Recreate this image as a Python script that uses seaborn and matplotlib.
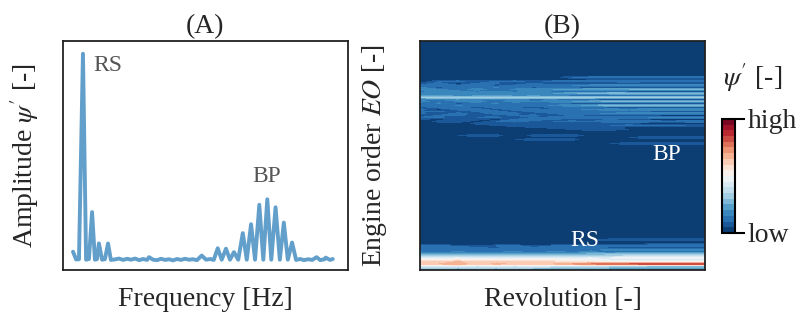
import numpy as np
import matplotlib
matplotlib.use("Agg")
import matplotlib.pyplot as plt
import seaborn as sns

# panel A: spectrum (frequency in arbitrary Hz units, amplitude normalised)
freq = [3.5, 4.6, 5.6, 7.0, 8.1, 9.1, 10.2, 11.2, 11.9, 12.6, 13.7, 14.7, 15.8, 16.8,
        18.2, 19.6, 21.1, 22.5, 23.9, 25.3, 26.7, 28.1, 29.5, 30.2, 31.6, 33.0, 34.4,
        35.8, 37.2, 38.6, 40.0, 41.4, 42.8, 44.2, 45.6, 47.0, 48.7, 50.2, 51.6, 52.9,
        54.3, 55.7, 57.2, 58.6, 60.0, 61.5, 63.1, 64.5, 66.0, 67.4, 68.9, 70.3, 71.7,
        73.1, 74.6, 76.1, 77.5, 78.9, 80.4, 81.8, 83.2, 84.6, 86.0, 87.5, 89.0, 90.3,
        91.8, 92.2, 93.7, 94.7]
amp = [0.080, 0.046, 0.047, 0.945, 0.045, 0.048, 0.253, 0.045, 0.047, 0.116, 0.045, 0.047, 0.116, 0.044,
       0.046, 0.050, 0.044, 0.049, 0.045, 0.050, 0.043, 0.048, 0.044, 0.056, 0.045, 0.043, 0.049,
       0.044, 0.047, 0.042, 0.048, 0.044, 0.049, 0.045, 0.047, 0.043, 0.063, 0.045, 0.048, 0.044,
       0.095, 0.045, 0.093, 0.045, 0.078, 0.045, 0.161, 0.045, 0.200, 0.045, 0.285, 0.045, 0.309,
       0.045, 0.274, 0.045, 0.207, 0.045, 0.120, 0.044, 0.048, 0.043, 0.047, 0.044, 0.056, 0.043,
       0.047, 0.054, 0.044, 0.048]

# panel B: engine order x revolution map, rows that carry energy (others are zero)
n_eo = 115
n_rev = 16
eo_rows = {
    96: [0, 0, 0, 0, 0, 0, 0, 0.02, 0.1, 0.12, 0.12, 0.12, 0.12, 0.12, 0.12, 0.12],
    94: [0, 0.1, 0.12, 0.06, 0.1, 0.12, 0.08, 0.12, 0.12, 0.15, 0.15, 0.15, 0.15, 0.15, 0.15, 0.15],
    93: [0.05, 0.12, 0, 0.1, 0.12, 0, 0.1, 0.05, 0, 0, 0, 0.02, 0, 0, 0, 0],
    92: [0.12, 0.15, 0.1, 0.14, 0.05, 0.12, 0.15, 0.12, 0.15, 0.18, 0.18, 0.2, 0.2, 0.2, 0.2, 0.2],
    91: [0.15, 0.05, 0.14, 0.1, 0.16, 0.1, 0.05, 0.1, 0.05, 0, 0, 0, 0, 0, 0, 0],
    90: [0.18, 0.15, 0.12, 0.18, 0.12, 0.16, 0.18, 0.2, 0.22, 0.25, 0.25, 0.25, 0.26, 0.26, 0.26, 0.26],
    89: [0.1, 0.18, 0.16, 0.12, 0.15, 0.12, 0.15, 0.12, 0.1, 0.05, 0.02, 0, 0, 0, 0, 0],
    88: [0.2, 0.15, 0.18, 0.2, 0.16, 0.2, 0.18, 0.2, 0.24, 0.28, 0.3, 0.3, 0.3, 0.3, 0.3, 0.3],
    87: [0.15, 0.2, 0.12, 0.15, 0.2, 0.12, 0.15, 0.1, 0.05, 0, 0, 0, 0, 0, 0, 0],
    86: [0.3, 0.32, 0.3, 0.33, 0.3, 0.32, 0.33, 0.33, 0.34, 0.35, 0.35, 0.35, 0.35, 0.35, 0.35, 0.35],
    85: [0.12, 0.15, 0.18, 0.12, 0.15, 0.14, 0.1, 0.12, 0.08, 0.05, 0, 0, 0, 0, 0, 0],
    84: [0.18, 0.12, 0.15, 0.18, 0.12, 0.2, 0.15, 0.18, 0.2, 0.24, 0.26, 0.26, 0.26, 0.26, 0.26, 0.26],
    83: [0.1, 0.16, 0.05, 0.12, 0.16, 0.08, 0.14, 0.1, 0.06, 0.02, 0, 0, 0, 0, 0, 0],
    82: [0.15, 0.1, 0.16, 0.12, 0.1, 0.15, 0.12, 0.16, 0.18, 0.22, 0.3, 0.3, 0.3, 0.3, 0.3, 0.3],
    81: [0.05, 0.14, 0.12, 0.05, 0.15, 0.1, 0.05, 0.12, 0.1, 0.08, 0.05, 0, 0, 0, 0, 0],
    80: [0.14, 0, 0.12, 0.14, 0.05, 0.14, 0.12, 0.1, 0.14, 0.16, 0.18, 0.18, 0.2, 0.2, 0.2, 0.2],
    79: [0.1, 0.12, 0.05, 0.1, 0.12, 0.06, 0.12, 0.14, 0.1, 0.12, 0.1, 0.08, 0.06, 0.05, 0.05, 0.05],
    78: [0.12, 0.05, 0.12, 0.08, 0.12, 0.12, 0.05, 0.1, 0.12, 0.14, 0.16, 0.18, 0.2, 0.2, 0.2, 0.2],
    77: [0.05, 0.1, 0.12, 0.05, 0.08, 0.1, 0.12, 0.05, 0.1, 0.08, 0.05, 0.04, 0.02, 0, 0, 0],
    76: [0.1, 0.12, 0.05, 0.1, 0.12, 0.05, 0.1, 0.12, 0.14, 0.12, 0.14, 0.15, 0.15, 0.16, 0.16, 0.16],
    75: [0.05, 0, 0.1, 0.08, 0, 0.1, 0.12, 0.1, 0.05, 0.08, 0.1, 0.05, 0.02, 0, 0, 0],
    74: [0, 0.08, 0.1, 0, 0.1, 0.12, 0.08, 0.1, 0.12, 0.1, 0.12, 0.12, 0.14, 0.12, 0.14, 0.14],
    73: [0, 0, 0, 0.08, 0.1, 0.05, 0.1, 0.08, 0.05, 0.1, 0.08, 0.05, 0, 0, 0, 0],
    72: [0, 0, 0, 0, 0.05, 0.1, 0.08, 0.1, 0.1, 0.05, 0.1, 0.12, 0.1, 0.12, 0.1, 0.1],
    71: [0, 0, 0, 0, 0, 0, 0.05, 0.08, 0.1, 0.08, 0.05, 0.02, 0, 0, 0, 0],
    70: [0, 0, 0, 0, 0, 0, 0, 0, 0.05, 0.1, 0.08, 0.05, 0, 0, 0, 0],
    67: [0, 0, 0.05, 0.1, 0.08, 0, 0.08, 0.1, 0.1, 0.02, 0, 0, 0, 0, 0, 0],
    66: [0, 0, 0, 0, 0, 0, 0, 0, 0, 0, 0, 0.05, 0.1, 0.1, 0.1, 0.1],
    65: [0, 0, 0, 0, 0, 0.05, 0.1, 0.1, 0.08, 0, 0, 0, 0, 0, 0, 0],
    63: [0, 0, 0, 0, 0, 0, 0, 0, 0, 0, 0.05, 0.1, 0.1, 0.1, 0.1, 0.1],
    15: [0, 0, 0, 0, 0, 0, 0, 0, 0, 0.03, 0.1, 0.1, 0.1, 0.1, 0.1, 0.1],
    13: [0, 0, 0, 0, 0, 0, 0, 0, 0, 0, 0, 0, 0.05, 0.08, 0.08, 0.08],
    12: [0.1, 0.12, 0.08, 0.05, 0.1, 0.12, 0.05, 0.1, 0.1, 0.12, 0.12, 0.14, 0.14, 0.14, 0.14, 0.14],
    11: [0.14, 0.1, 0.14, 0.12, 0.08, 0.14, 0.12, 0.14, 0.12, 0.1, 0.08, 0.05, 0.05, 0.05, 0.05, 0.05],
    10: [0.12, 0.15, 0.1, 0.14, 0.15, 0.1, 0.14, 0.12, 0.15, 0.14, 0.16, 0.16, 0.18, 0.18, 0.18, 0.18],
    9: [0.15, 0.12, 0.16, 0.12, 0.14, 0.16, 0.12, 0.16, 0.14, 0.16, 0.12, 0.14, 0.12, 0.12, 0.12, 0.12],
    8: [0.2, 0.22, 0.2, 0.24, 0.2, 0.22, 0.24, 0.22, 0.24, 0.25, 0.26, 0.28, 0.28, 0.28, 0.28, 0.28],
    7: [0.3, 0.3, 0.32, 0.3, 0.32, 0.3, 0.32, 0.3, 0.32, 0.33, 0.34, 0.35, 0.35, 0.36, 0.36, 0.36],
    6: [0.42, 0.44, 0.45, 0.42, 0.44, 0.42, 0.44, 0.42, 0.44, 0.45, 0.45, 0.46, 0.46, 0.46, 0.46, 0.46],
    5: [0.5, 0.52, 0.55, 0.5, 0.54, 0.5, 0.52, 0.5, 0.5, 0.48, 0.45, 0.42, 0.4, 0.4, 0.4, 0.4],
    4: [0.6, 0.62, 0.66, 0.6, 0.64, 0.62, 0.6, 0.6, 0.58, 0.55, 0.52, 0.5, 0.5, 0.5, 0.5, 0.5],
    3: [0.62, 0.65, 0.68, 0.62, 0.66, 0.64, 0.62, 0.65, 0.7, 0.75, 0.78, 0.8, 0.82, 0.82, 0.82, 0.82],
    2: [0.45, 0.42, 0.45, 0.4, 0.42, 0.4, 0.42, 0.4, 0.4, 0.38, 0.35, 0.32, 0.3, 0.3, 0.3, 0.3],
    1: [0.35, 0.32, 0.3, 0.32, 0.3, 0.32, 0.3, 0.3, 0.3, 0.28, 0.25, 0.25, 0.25, 0.25, 0.25, 0.25],
    0: [0.2, 0.2, 0.2, 0.2, 0.2, 0.2, 0.2, 0.2, 0.2, 0.2, 0.2, 0.2, 0.2, 0.2, 0.2, 0.2],
}
cbar_ticks = [0, 1]
cbar_labels = ["low", "high"]

sns.set_theme(style="white")
plt.rcParams['font.family'] = 'serif'
plt.rcParams['font.serif'] = ['Liberation Serif', 'DejaVu Serif']
plt.rcParams['mathtext.fontset'] = 'stix'

fig = plt.figure(figsize=(8.11, 3.24), dpi=100)
ax1 = fig.add_axes([0.0777, 0.1667, 0.3513, 0.7063])
ax2 = fig.add_axes([0.5179, 0.1667, 0.3513, 0.7063])
cax = fig.add_axes([0.8903, 0.2809, 0.0160, 0.3519])

# (A) spectrum
sns.lineplot(x=freq, y=amp, ax=ax1, color="#639fcb", linewidth=2.8,
             solid_joinstyle="round", solid_capstyle="round")
ax1.set_xlim(0, 100)
ax1.set_ylim(0, 1)
ax1.set_xticks([])
ax1.set_yticks([])
ax1.set_title("(A)", fontsize=20)
ax1.set_xlabel("Frequency [Hz]", fontsize=20, labelpad=12)
ax1.set_ylabel("Amplitude $\\psi'$ [-]", fontsize=20, labelpad=16)
ax1.text(10.5, 0.895, "RS", fontsize=17, color="#555555", ha="left", va="center")
ax1.text(71.6, 0.41, "BP", fontsize=17, color="#555555", ha="center", va="center")

# (B) engine order map
Z = np.zeros((n_eo, n_rev))
for r, vals in eo_rows.items():
    Z[r, :] = vals
rev = np.arange(n_rev)
eo = np.arange(n_eo)
cmap = sns.color_palette("RdBu_r", as_cmap=True)
cs = ax2.contourf(rev, eo, Z, levels=np.linspace(0, 1, 21), cmap=cmap)
ax2.set_xlim(0, n_rev - 1)
ax2.set_ylim(0, n_eo - 1)
ax2.set_xticks([])
ax2.set_yticks([])
ax2.set_title("(B)", fontsize=20)
ax2.set_xlabel("Revolution [-]", fontsize=20, labelpad=12)
ax2.set_ylabel("Engine order $EO$ [-]", fontsize=20, labelpad=22)
ax2.text(13.0, 57.7, "BP", fontsize=17, color="white", ha="center", va="center")
ax2.text(8.7, 14.9, "RS", fontsize=17, color="white", ha="center", va="center")

cb = fig.colorbar(cs, cax=cax, ticks=cbar_ticks)
cb.ax.set_yticklabels(cbar_labels, fontsize=20)
cb.ax.tick_params(length=7, width=1.5, color="black", pad=2)
cb.outline.set_linewidth(1.5)
cb.outline.set_edgecolor("black")
fig.text(0.892, 0.76, "$\\psi'$ [-]", fontsize=20, ha="left", va="center")

for ax in (ax1, ax2):
    for s in ax.spines.values():
        s.set_visible(True)
        s.set_color("#222222")
        s.set_linewidth(1.3)

fig.savefig("out.png", dpi=100)
